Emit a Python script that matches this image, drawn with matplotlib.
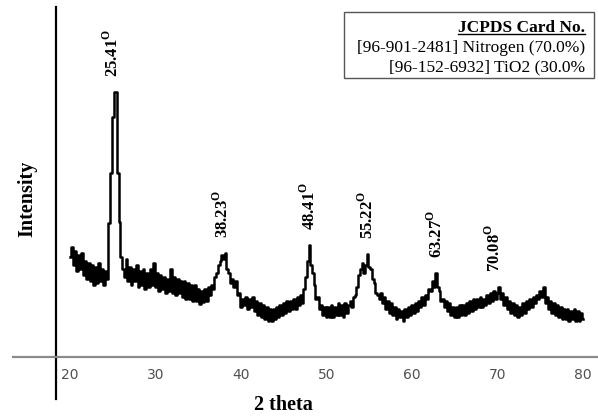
import numpy as np
import matplotlib
matplotlib.use("Agg")
import matplotlib.pyplot as plt
from matplotlib.transforms import IdentityTransform

# XRD scan, 0.2 deg step, intensity in arbitrary units
scan_start, scan_stop, scan_step = 20.0, 80.0, 0.2
intensity = [
    100, 110, 92, 106, 86, 102, 88, 104, 82, 96,     # 20.0 - 21.8
    78, 94, 76, 92, 72, 90, 74, 94, 76, 88,          # 22.0
    72, 86, 78, 134, 184, 240, 265, 265, 184, 135,   # 24.0
    100, 88, 80, 98, 76, 90, 72, 88, 76, 92,         # 26.0
    70, 86, 72, 88, 68, 84, 70, 88, 72, 94,          # 28.0
    70, 84, 66, 82, 68, 80, 64, 78, 66, 88,          # 30.0
    64, 80, 62, 78, 64, 76, 60, 76, 58, 74,          # 32.0
    58, 72, 56, 72, 56, 68, 53, 66, 55, 68,          # 34.0
    56, 70, 62, 72, 68, 80, 84, 92, 96, 102,         # 36.0
    98, 104, 88, 84, 74, 78, 70, 76, 62, 64,         # 38.0
    50, 58, 52, 60, 48, 58, 50, 60, 46, 56,          # 40.0
    42, 54, 40, 52, 38, 50, 36, 48, 36, 48,          # 42.0
    38, 50, 40, 52, 42, 54, 44, 56, 46, 56,          # 44.0
    48, 58, 48, 60, 52, 62, 54, 68, 80, 96,          # 46.0
    112, 92, 84, 72, 58, 60, 48, 52, 42, 50,         # 48.0
    40, 50, 40, 52, 40, 50, 42, 54, 42, 52,          # 50.0
    40, 54, 44, 52, 56, 50, 60, 62, 70, 82,          # 52.0
    88, 94, 84, 92, 103, 90, 88, 78, 74, 64,         # 54.0
    62, 58, 64, 54, 60, 48, 56, 44, 54, 42,          # 56.0
    50, 38, 48, 40, 46, 36, 48, 40, 50, 42,          # 58.0
    52, 44, 54, 46, 56, 50, 60, 52, 62, 58,          # 60.0
    68, 66, 76, 70, 84, 70, 66, 56, 58, 50,          # 62.0
    56, 46, 54, 42, 50, 40, 50, 40, 52, 42,          # 64.0
    52, 42, 54, 44, 56, 46, 58, 48, 58, 50,          # 66.0
    60, 50, 58, 52, 62, 54, 64, 56, 66, 58,          # 68.0
    64, 70, 58, 64, 52, 60, 48, 56, 44, 54,          # 70.0
    42, 52, 40, 50, 42, 54, 44, 56, 48, 58,          # 72.0
    50, 60, 54, 62, 58, 66, 60, 70, 54, 60,          # 74.0
    48, 56, 44, 54, 42, 52, 40, 50, 38, 48,          # 76.0
    38, 48, 36, 46, 38, 48, 36, 46, 36, 44,          # 78.0
    38,                                              # 80.0
]
two_theta = np.arange(scan_start, scan_stop + scan_step / 2, scan_step)
intensity = np.array(intensity, dtype=float)

peaks = [25.41, 38.23, 48.41, 55.22, 63.27, 70.08]
xticks = [20, 30, 40, 50, 60, 70, 80]
card_title = "JCPDS Card No."
card_lines = ["[96-901-2481] Nitrogen (70.0%)", "[96-152-6932] TiO2 (30.0%"]

serif = "Liberation Serif"
W, H = 598, 419
fig = plt.figure(figsize=(W / 100, H / 100), dpi=100)
ax = fig.add_axes([0, 0, 1, 1])
ax.patch.set_alpha(0)

# 1 y-unit = 1 px, x: 8.55 px per degree, 20 deg at px 70
ppd = 8.55
ax.set_xlim(20 - 70 / ppd, 20 + (W - 70) / ppd)
ax.set_ylim(-(H - 357), 357)

ax.plot(two_theta, intensity, color="black", lw=1.8, drawstyle="steps-mid")

for p in peaks:
    top = intensity[np.abs(two_theta - p) < 0.7].max()
    ax.annotate(f"{p:.2f}" + r"$^{\mathregular{O}}$", (p, top), xytext=(-3, 11),
                textcoords="offset points", rotation=90, ha="center", va="bottom",
                family=serif, fontweight="bold", fontsize=12)

for s in ("top", "right"):
    ax.spines[s].set_visible(False)
ax.spines["left"].set_position(("data", 20 + (56 - 70) / ppd))
ax.spines["left"].set_bounds(-42, 350)
ax.spines["left"].set_linewidth(1.6)
ax.spines["bottom"].set_position(("data", 0))
ax.spines["bottom"].set_bounds(20 + (13 - 70) / ppd, 20 + (W - 70) / ppd)
ax.spines["bottom"].set_color("#8a8a8a")
ax.spines["bottom"].set_linewidth(1.6)
ax.set_yticks([])
ax.set_xticks(xticks)
ax.tick_params(axis="x", length=0, pad=8, labelsize=10, labelcolor="#505050")

fig.text(27 / W, 1 - 199 / H, "Intensity", rotation=90, ha="center", va="center",
         family=serif, fontweight="bold", fontsize=14.5)
fig.text(283 / W, 1 - 405 / H, "2 theta", ha="center", va="center",
         family=serif, fontweight="bold", fontsize=14.5)

# card box
fig.add_artist(plt.Rectangle((344 / W, 1 - 78 / H), 250 / W, 66 / H, fill=False,
                             edgecolor="#555555", lw=1.0, transform=fig.transFigure))
tx = 585 / W
t0 = fig.text(tx, 1 - 32 / H, card_title, ha="right", va="baseline",
              family=serif, fontweight="bold", fontsize=12.5)
for i, line in enumerate(card_lines):
    fig.text(tx, 1 - (52 + 19 * i) / H, line, ha="right", va="baseline",
             family=serif, fontsize=12.5)

fig.canvas.draw()
bb = t0.get_window_extent()
uy = (1 - 32 / H) * H - 2
fig.add_artist(plt.Line2D([bb.x0, bb.x1], [uy, uy], color="black", lw=1.0,
                          transform=IdentityTransform()))

fig.savefig("out.png", dpi=100)
